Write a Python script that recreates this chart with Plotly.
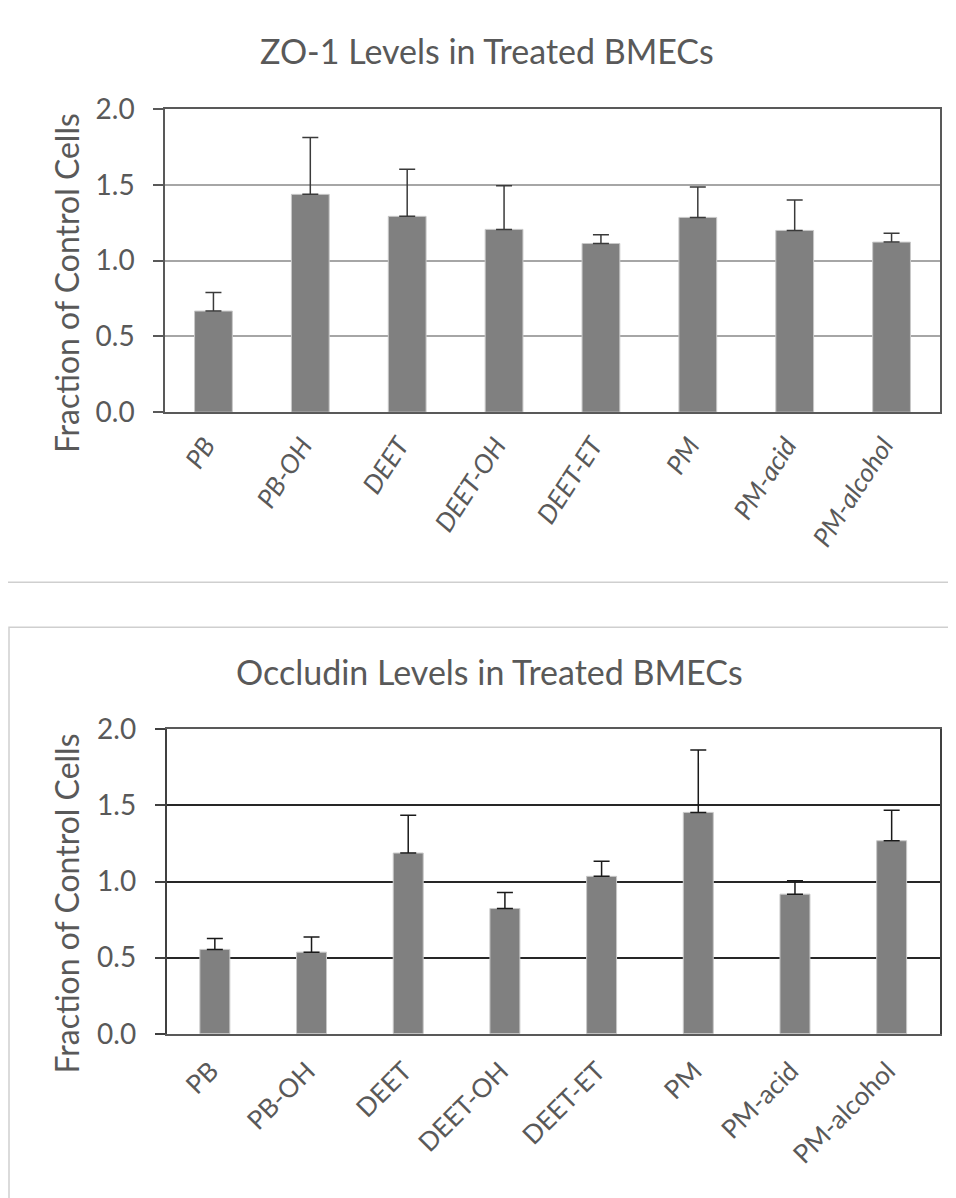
import plotly.graph_objects as go

categories = ["PB", "PB-OH", "DEET", "DEET-OH", "DEET-ET", "PM", "PM-acid", "PM-alcohol"]

zo1_mean = [0.667, 1.437, 1.292, 1.206, 1.113, 1.285, 1.199, 1.122]
zo1_err_top = [0.79, 1.813, 1.602, 1.494, 1.17, 1.485, 1.40, 1.18]

occ_mean = [0.554, 0.536, 1.187, 0.823, 1.034, 1.454, 0.917, 1.268]
occ_err_top = [0.626, 0.635, 1.436, 0.928, 1.133, 1.864, 1.005, 1.469]

y_ticks = [0.0, 0.5, 1.0, 1.5, 2.0]
y_tick_text = ["0.0", "0.5", "1.0", "1.5", "2.0"]

title_top = "ZO-1 Levels in Treated BMECs"
title_bottom = "Occludin Levels in Treated BMECs"
y_title = "Fraction of Control Cells"

W, H = 946, 1190
OFFX, OFFY, SY = 8, 26, 0.971
FONT = "Lato"
TXT = "#595959"
BAR = "#808080"

zo1_plus = [t - m for t, m in zip(zo1_err_top, zo1_mean)]
occ_plus = [t - m for t, m in zip(occ_err_top, occ_mean)]


def px_(sx):
    return (sx - OFFX) / W


def py_(sy):
    return 1 - ((sy - OFFY) / SY) / H


fig = go.Figure()
fig.add_trace(go.Bar(
    x=categories, y=zo1_mean, width=0.39,
    marker=dict(color=BAR, line=dict(color="#c8c8c8", width=1)),
    error_y=dict(type="data", symmetric=False, array=zo1_plus,
                 arrayminus=[0] * len(zo1_plus), color="#3a3a3a",
                 thickness=1.5, width=8),
    xaxis="x", yaxis="y", showlegend=False,
))
fig.add_trace(go.Bar(
    x=categories, y=occ_mean, width=0.31,
    marker=dict(color=BAR, line=dict(color="#c8c8c8", width=1)),
    error_y=dict(type="data", symmetric=False, array=occ_plus,
                 arrayminus=[0] * len(occ_plus), color="#1a1a1a",
                 thickness=1.5, width=8),
    xaxis="x2", yaxis="y2", showlegend=False,
))

common_y = dict(range=[0, 2], tickvals=y_ticks, ticktext=y_tick_text,
                ticks="outside", ticklen=10, tickwidth=1.5,
                ticklabelstandoff=13,
                showline=True, linewidth=1.5, mirror=True,
                tickfont=dict(family=FONT, size=28, color=TXT),
                zeroline=False, fixedrange=True)

fig.update_layout(
    width=W, height=H,
    margin=dict(l=0, r=0, t=0, b=0),
    paper_bgcolor="white", plot_bgcolor="white",
    xaxis=dict(domain=[px_(165), px_(940)], anchor="y",
               showline=True, linewidth=1.5, linecolor="#595959", mirror=True,
               ticks="", tickangle=-57, ticklabelstandoff=6, ticklabelshift=-8,
               tickfont=dict(family=FONT, size=26, color=TXT, style="italic")),
    yaxis=dict(domain=[py_(412), py_(109)], anchor="x",
               linecolor="#595959", tickcolor="#595959",
               showgrid=True, gridcolor="#a6a6a6", gridwidth=1.5,
               **common_y),
    xaxis2=dict(domain=[px_(166.5), px_(940)], anchor="y2",
                showline=True, linewidth=1.5, linecolor="#595959", mirror=True,
                ticks="", tickangle=-45, ticklabelstandoff=10, ticklabelshift=-4,
                tickfont=dict(family=FONT, size=26, color=TXT)),
    yaxis2=dict(domain=[py_(1033.3), py_(729)], anchor="x2",
                linecolor="#404040", tickcolor="#404040",
                showgrid=True, gridcolor="#262626", gridwidth=1.5,
                **common_y),
    annotations=[
        dict(text=title_top, x=px_(487), y=py_(50), xref="paper", yref="paper",
             showarrow=False, xanchor="center", yanchor="middle",
             font=dict(family=FONT, size=34, color=TXT)),
        dict(text=title_bottom, x=px_(489.5), y=py_(671), xref="paper", yref="paper",
             showarrow=False, xanchor="center", yanchor="middle",
             font=dict(family=FONT, size=34, color=TXT)),
        dict(text=y_title, x=px_(66), y=py_(283), xref="paper", yref="paper",
             showarrow=False, textangle=-90, xanchor="center", yanchor="middle",
             font=dict(family=FONT, size=32, color=TXT)),
        dict(text=y_title, x=px_(66), y=py_(903), xref="paper", yref="paper",
             showarrow=False, textangle=-90, xanchor="center", yanchor="middle",
             font=dict(family=FONT, size=32, color=TXT)),
    ],
    shapes=[
        dict(type="line", xref="paper", yref="paper",
             x0=0, x1=1, y0=py_(582), y1=py_(582),
             line=dict(color="#cfcfcf", width=1.5)),
        dict(type="rect", xref="paper", yref="paper",
             x0=px_(9), x1=1.02, y0=-0.05, y1=py_(627),
             line=dict(color="#cfcfcf", width=1.5)),
    ],
)

fig.write_html("out.html")
